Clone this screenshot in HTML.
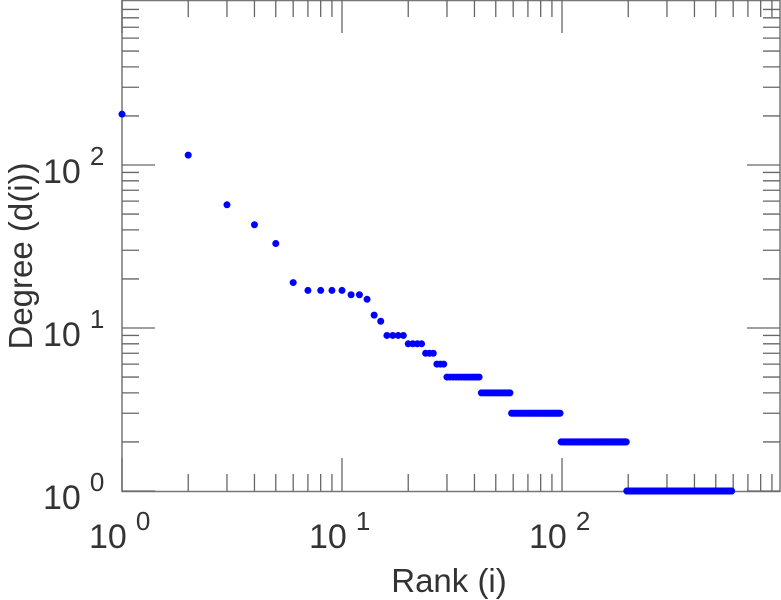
<!DOCTYPE html>
<html><head><meta charset="utf-8"><style>
body{margin:0;background:#fff}
svg{display:block;font-family:"Liberation Sans",sans-serif}
</style></head><body>
<svg id="chart" width="781" height="600">
<g id="axes"></g>
<g id="marks"></g>
<text x="449" y="592" font-size="33" fill="#333" text-anchor="middle">Rank (i)</text>
<text transform="translate(32,256) rotate(-90)" font-size="33" fill="#333" text-anchor="middle">Degree (d(i))</text>
</svg>
<script>
// rank groups: start rank, end rank, degree
const groupStart = [1,2,3,4,5,6,7,11,13,14,15,16,20,24,27,30,43,59,99,197];
const groupEnd   = [1,2,3,4,5,6,10,12,13,14,15,19,23,26,29,42,58,98,196,590];
const groupDegree= [205,115,57,43,33,19,17,16,15,12,11,9,8,7,6,5,4,3,2,1];
const xTickExps = [0,1,2];
const yTickExps = [0,1,2];

const X0=122, X1=780, Y0=491, Y1=0, DX=220, DY=163;
const xs = v => X0 + Math.log10(v)*DX;
const ys = v => Y0 - Math.log10(v)*DY;
const NS="http://www.w3.org/2000/svg";
const axes=document.getElementById('axes'), marks=document.getElementById('marks');
function mk(tag,attrs,parent){const e=document.createElementNS(NS,tag);for(const k in attrs)e.setAttribute(k,attrs[k]);parent.appendChild(e);return e;}

const frame=mk('rect',{x:X0,y:Y1+0.5,width:X1-X0,height:Y0-Y1,fill:'none',stroke:'#777','stroke-width':1.5},axes);



for(let e=0;e<3;e++){for(let m=1;m<10;m++){const v=m*Math.pow(10,e);const x=xs(v);if(x>X1)continue;
 const L=m===1?33:17;
 const t1=mk('line',{x1:x,x2:x,y1:Y0,y2:Y0-L,stroke:'#666','stroke-width':1.3},axes);
 
 
 const t2=mk('line',{x1:x,x2:x,y1:Y1,y2:Y1+L,stroke:'#666','stroke-width':1.3},axes);
 
 
}}
for(let e=0;e<3;e++){for(let m=1;m<10;m++){const v=m*Math.pow(10,e);const y=ys(v);if(y<Y1)continue;
 const L=m===1?33:17;
 const t1=mk('line',{x1:X0,x2:X0+L,y1:y,y2:y,stroke:'#666','stroke-width':1.3},axes);
 
 
 const t2=mk('line',{x1:X1,x2:X1-L,y1:y,y2:y,stroke:'#666','stroke-width':1.3},axes);
 
 
}}
xTickExps.forEach(e=>{const x=xs(Math.pow(10,e));
 const t=mk('text',{x:x-33,y:548,'font-size':34,fill:'#333'},axes);
 
 
 t.textContent='10';
 const s=mk('tspan',{dx:9,dy:-18,'font-size':26},t);s.textContent=String(e);
});
yTickExps.forEach(e=>{const y=ys(Math.pow(10,e));
 const t=mk('text',{x:43,y:y+18,'font-size':34,fill:'#333'},axes);
 
 
 t.textContent='10';
 const s=mk('tspan',{dx:9,dy:-18,'font-size':26},t);s.textContent=String(e);
});
for(let g=0;g<groupStart.length;g++){for(let r=groupStart[g];r<=groupEnd[g];r++){
 const c=mk('circle',{cx:xs(r),cy:ys(groupDegree[g]),r:3.5,fill:'#0000ff'},marks);
 
 
}}
</script>
</body></html>
